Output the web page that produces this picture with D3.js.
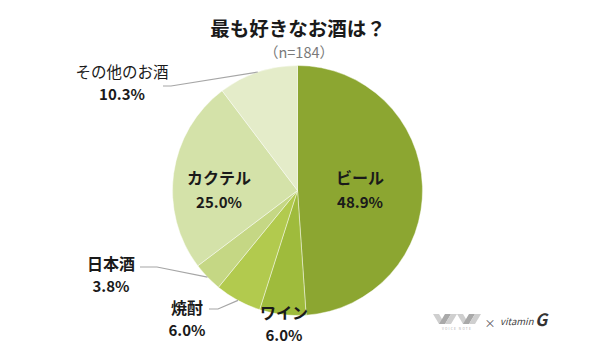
<!DOCTYPE html>
<html><head><meta charset="utf-8">
<script src="https://cdn.jsdelivr.net/npm/d3@7"></script>
<style>
html,body{margin:0;padding:0;background:#fff;}
svg{display:block;}
text{font-family:"Noto Sans CJK JP","Noto Sans",sans-serif;}
</style></head>
<body>
<svg id="chart" width="600" height="346"></svg>
<script>
// ---- data ----
const title = "最も好きなお酒は？";
const subtitle = "（n=184）";
const categories = ["ビール", "ワイン", "焼酎", "日本酒", "カクテル", "その他のお酒"];
const values = [48.9, 6.0, 6.0, 3.8, 25.0, 10.3];
const colors = ["#8ca631", "#9fbb3c", "#b2ca4e", "#c5d784", "#d4e2a9", "#e4ecc9"];

// ---- layout ----
const W = 600, H = 346;
const cx = 297.5, cy = 190.5, R = 125;
const labelLayout = [
  {x: 360, y: 177, dy: 24, bold: true, fs: 16},
  {x: 284, y: 312, dy: 22, bold: true, fs: 16},
  {x: 187, y: 307, dy: 22, bold: true, fs: 16, leader: [[209, 309], [218, 309]]},
  {x: 111, y: 263, dy: 22, bold: true, fs: 16, leader: [[140, 267], [157, 267]]},
  {x: 219, y: 177, dy: 24, bold: true, fs: 16},
  {x: 122, y: 71, dy: 22, bold: false, fs: 15.5, leader: [[163, 86], [171, 86]]}
];

const svg = d3.select("#chart");
svg.append("rect").attr("width", W).attr("height", H).attr("fill", "#fff");

svg.append("text").attr("x", 298).attr("y", 27)
  .attr("text-anchor", "middle").attr("dominant-baseline", "central")
  .attr("font-size", 19.5).attr("font-weight", "bold").attr("fill", "#1a1a1a")
  .text(title);
svg.append("text").attr("x", 299).attr("y", 51)
  .attr("text-anchor", "middle").attr("dominant-baseline", "central")
  .attr("font-size", 14.5).attr("fill", "#7a7a7a")
  .text(subtitle);

const pie = d3.pie().sort(null).value(d => d)(values);
const arc = d3.arc().innerRadius(0).outerRadius(R);

const g = svg.append("g").attr("transform", `translate(${cx},${cy})`);
g.selectAll("path").data(pie).join("path")
  .attr("d", arc)
  .attr("fill", (d, i) => colors[i])
  .attr("stroke", "rgba(255,255,255,0.55)")
  .attr("stroke-width", 0.8);

pie.forEach((d, i) => {
  const L = labelLayout[i];
  if (!L.leader) return;
  const a = (d.startAngle + d.endAngle) / 2;
  const ex = cx + R * Math.sin(a), ey = cy - R * Math.cos(a);
  const pts = L.leader.concat([[ex, ey]]);
  svg.append("path").attr("d", d3.line()(pts))
    .attr("fill", "none").attr("stroke", "#a6a6a6").attr("stroke-width", 1.2);
});

categories.forEach((c, i) => {
  const L = labelLayout[i];
  svg.append("text").attr("x", L.x).attr("y", L.y)
    .attr("text-anchor", "middle").attr("dominant-baseline", "central")
    .attr("font-size", L.fs).attr("font-weight", L.bold ? "bold" : "normal")
    .attr("fill", "#1a1a1a").text(c);
  svg.append("text").attr("x", L.x).attr("y", L.y + L.dy)
    .attr("text-anchor", "middle").attr("dominant-baseline", "central")
    .attr("font-size", 15).attr("font-weight", "bold")
    .attr("fill", "#1a1a1a").text(values[i].toFixed(1) + "%");
});

// logo
const logo = svg.append("g").attr("transform", "translate(433,314)");
[0, 24].forEach(ox => {
  const shapes = [
    [[ox + 0, 0], [ox + 6, 0], [ox + 12, 10], [ox + 6, 10]],
    [[ox + 6, 10], [ox + 12, 0], [ox + 18, 0], [ox + 12, 10]],
    [[ox + 12, 10], [ox + 18, 0], [ox + 24, 0], [ox + 18, 10]]
  ];
  shapes.forEach((s, k) => {
    logo.append("path").attr("d", d3.line()(s) + "Z")
      .attr("fill", k === 1 ? "#a9a9a9" : "#cfcfcf");
  });
});
logo.append("text").attr("x", 24).attr("y", 16)
  .attr("text-anchor", "middle").attr("font-size", 3.2)
  .attr("letter-spacing", 1.2).attr("fill", "#aaa")
  .attr("font-family", "DejaVu Sans").text("VOICE NOTE");
svg.append("text").attr("x", 490).attr("y", 323)
  .attr("text-anchor", "middle").attr("dominant-baseline", "central")
  .attr("font-size", 11).attr("fill", "#555").attr("font-family", "DejaVu Sans")
  .text("×");
svg.append("text").attr("x", 500).attr("y", 325)
  .attr("font-size", 9.5).attr("font-style", "italic").attr("fill", "#444")
  .attr("font-family", "DejaVu Serif").text("vitamin");
svg.append("text").attr("x", 535).attr("y", 326)
  .attr("font-size", 17).attr("font-style", "italic").attr("font-weight", "bold")
  .attr("fill", "#333").attr("font-family", "DejaVu Serif").text("G");
</script>
</body></html>
